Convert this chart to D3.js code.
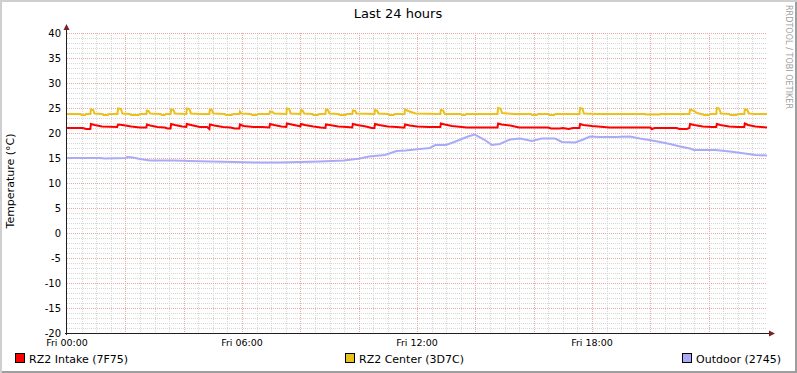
<!DOCTYPE html>
<html>
<head>
<meta charset="utf-8">
<script src="https://cdn.jsdelivr.net/npm/d3@7"></script>
<style>
 body { margin: 0; background: #fff; }
 text { font-family: "DejaVu Sans", sans-serif; fill: #000; }
 .minor { stroke: #d6d6d6; stroke-width: 1; stroke-dasharray: 1,1; }
 .major { stroke: #e8a8a8; stroke-width: 1; stroke-dasharray: 1,1; }
 .axis-line { stroke: #1f1f1f; stroke-width: 1; }
 .arrow { fill: #801f1f; }
 .series { fill: none; stroke-width: 2; stroke-linejoin: miter; }
</style>
</head>
<body>
<div id="chart"></div>
<script>
// hours since Fri 00:00, degrees C
var intakePoints = [
 [0.00,21.0],[0.55,21.0],[0.65,20.8],[0.80,20.8],[0.82,21.8],[0.95,21.6],[1.20,21.3],[1.72,21.2],
 [1.75,21.7],[1.90,21.6],[2.20,21.3],[2.50,21.1],[2.72,21.1],
 [2.74,21.7],[2.85,21.5],[3.10,21.2],[3.35,21.1],[3.45,20.9],[3.55,20.9],
 [3.57,21.8],[3.70,21.6],[3.95,21.3],[4.09,21.2],
 [4.11,21.8],[4.25,21.6],[4.55,21.2],[4.80,21.2],[4.88,20.8],
 [4.90,21.7],[5.05,21.5],[5.35,21.2],[5.60,21.1],[5.75,20.9],[5.91,20.9],
 [5.93,21.7],[6.05,21.4],[6.40,21.2],[6.70,21.2],[6.94,21.1],
 [6.96,21.8],[7.10,21.6],[7.35,21.3],[7.52,21.2],
 [7.54,21.9],[7.70,21.7],[7.95,21.4],[8.00,21.3],
 [8.02,21.8],[8.15,21.6],[8.45,21.3],[8.70,21.1],[8.86,21.0],
 [8.88,21.7],[9.00,21.6],[9.30,21.3],[9.60,21.2],[9.78,21.1],
 [9.80,21.8],[9.95,21.6],[10.25,21.3],[10.45,21.0],[10.54,21.0],
 [10.56,21.8],[10.70,21.6],[11.00,21.3],[11.30,21.2],[11.50,21.1],[11.57,21.1],
 [11.59,21.7],[11.75,21.5],[12.00,21.3],[12.40,21.2],[12.80,21.2],
 [12.82,21.9],[12.95,21.7],[13.20,21.4],[13.70,21.1],[14.76,21.1],
 [14.78,21.9],[14.90,21.7],[15.20,21.5],[15.50,21.1],[16.50,21.1],[16.60,20.9],[16.90,20.9],
 [17.00,21.0],[17.20,20.8],[17.35,21.0],[17.57,21.0],
 [17.59,21.8],[17.70,21.6],[18.00,21.4],[18.40,21.2],[18.60,21.1],[20.00,21.1],[20.05,20.8],
 [20.15,21.0],[20.90,21.0],[21.00,20.8],[21.25,20.8],[21.34,21.0],
 [21.36,21.8],[21.50,21.6],[21.80,21.3],[22.10,21.2],[22.26,21.2],
 [22.28,21.8],[22.40,21.6],[22.70,21.3],[23.00,21.2],[23.22,21.2],
 [23.24,21.9],[23.35,21.6],[23.60,21.3],[24.00,21.1]
];

var centerPoints = [
 [0.00,23.8],[0.45,23.8],[0.50,23.6],[0.62,23.6],[0.66,23.8],[0.80,23.8],[0.82,24.7],[0.90,24.6],[0.94,23.9],
 [1.20,23.8],[1.25,23.6],[1.40,23.6],[1.45,23.8],[1.73,23.8],[1.75,24.9],[1.85,24.8],[1.90,23.9],
 [2.15,23.8],[2.20,23.6],[2.45,23.6],[2.50,23.8],[2.72,23.8],[2.74,24.5],[2.80,24.4],[2.85,23.9],
 [3.20,23.8],[3.25,23.6],[3.35,23.6],[3.40,23.8],[3.55,23.8],[3.57,24.7],[3.65,24.6],[3.70,23.9],
 [4.09,23.8],[4.11,24.9],[4.20,24.8],[4.25,23.9],[4.60,23.8],[4.88,23.8],[4.90,24.7],[4.97,24.6],[5.02,23.9],
 [5.40,23.8],[5.45,23.6],[5.65,23.6],[5.70,23.8],[5.91,23.8],[5.93,24.3],[5.98,23.9],
 [6.30,23.8],[6.35,23.6],[6.50,23.6],[6.55,23.8],[6.94,23.8],[6.96,24.3],[7.05,24.2],[7.10,23.9],
 [7.52,23.8],[7.54,24.9],[7.62,24.8],[7.67,23.9],[8.00,23.8],[8.02,24.6],[8.08,24.5],[8.13,23.9],
 [8.40,23.8],[8.45,23.6],[8.60,23.6],[8.65,23.8],[8.86,23.8],[8.88,24.7],[8.95,24.6],[9.00,23.9],
 [9.30,23.8],[9.35,23.6],[9.55,23.6],[9.60,23.8],[9.78,23.8],[9.80,24.5],[9.88,24.4],[9.93,23.9],
 [10.54,23.8],[10.56,24.6],[10.63,24.5],[10.68,23.9],[11.00,23.8],[11.05,23.6],[11.20,23.6],[11.25,23.8],
 [11.57,23.8],[11.59,24.7],[11.70,24.4],[11.85,24.1],[11.95,23.9],
 [12.80,23.8],[12.82,24.6],[12.90,24.5],[12.95,23.8],[13.50,23.8],[13.55,23.6],[13.65,23.6],[13.70,23.8],
 [14.76,23.8],[14.78,25.0],[14.86,24.9],[14.92,24.0],[15.30,23.8],[15.90,23.8],[15.95,23.6],[16.10,23.6],
 [16.15,23.8],[16.50,23.8],[16.55,23.6],[16.70,23.6],[16.75,23.8],
 [17.57,23.8],[17.59,25.0],[17.67,24.9],[17.72,23.9],[18.20,23.8],[19.80,23.8],[19.85,23.7],[20.30,23.7],
 [20.35,23.8],[21.34,23.8],[21.36,24.7],[21.50,24.4],[21.60,24.0],[21.75,23.8],[21.85,23.6],[22.00,23.6],
 [22.05,23.8],[22.26,23.8],[22.28,25.0],[22.36,24.9],[22.42,23.9],[22.70,23.8],[22.75,23.6],[22.95,23.6],
 [23.00,23.8],[23.22,23.8],[23.24,24.7],[23.32,24.6],[23.38,23.9],[23.60,23.8],[24.00,23.8]
];

var outdoorPoints = [
 [0.00,15.0],[1.13,15.0],[1.30,14.9],[2.00,15.0],[2.06,15.2],[2.26,15.1],[2.50,14.8],[2.85,14.5],
 [3.70,14.5],[4.20,14.4],[4.90,14.3],[5.76,14.2],[6.60,14.1],[7.30,14.1],[8.00,14.2],[8.67,14.3],
 [9.50,14.5],[10.05,14.9],[10.35,15.3],[10.90,15.6],[11.30,16.4],[11.60,16.5],[11.93,16.7],
 [12.44,17.0],[12.63,17.6],[13.00,17.6],[13.32,18.3],[13.75,19.3],[13.98,19.7],[14.33,18.6],
 [14.57,17.6],[14.84,17.8],[15.19,18.7],[15.53,18.9],[15.94,18.4],[16.28,18.9],[16.73,18.9],
 [16.97,18.2],[17.42,18.1],[17.66,18.6],[17.93,19.3],[18.27,19.2],[18.79,19.2],[19.30,19.3],
 [19.64,18.9],[20.16,18.4],[20.67,17.8],[21.02,17.3],[21.36,16.9],[21.50,16.6],[22.22,16.6],
 [22.73,16.3],[23.24,15.9],[23.59,15.6],[24.00,15.5]
];

var seriesNames = ["RZ2 Intake (7F75)", "RZ2 Center (3D7C)", "Outdoor (2745)"];
var seriesColors = ["#ff0000", "#eac11c", "#aaaaf8"];
var yTicks = [-20, -15, -10, -5, 0, 5, 10, 15, 20, 25, 30, 35, 40];
var xTicks = [0, 6, 12, 18];
var xTickLabels = ["Fri 00:00", "Fri 06:00", "Fri 12:00", "Fri 18:00"];

var width = 797, height = 373;
var plot = { left: 67, right: 767, top: 33, bottom: 333 };

var svg = d3.select("#chart").append("svg")
  .attr("width", width)
  .attr("height", height);

// 3d frame like rrdtool
svg.append("rect").attr("x", 0).attr("y", 0).attr("width", width).attr("height", height).attr("fill", "#fff");
svg.append("path").attr("d", "M0,0H" + width + "V2H2V" + height + "H0Z").attr("fill", "#cfcfcf");
svg.append("path").attr("d", "M" + width + "," + height + "H2V" + (height - 2) + "H" + (width - 2) + "V2H" + width + "Z").attr("fill", "#9e9e9e");

var x = d3.scaleLinear().domain([0, 24]).range([plot.left, plot.right]);
var y = d3.scaleLinear().domain([-20, 40]).range([plot.bottom, plot.top]);

// minor grid
var g = svg.append("g");
g.selectAll(".hmin").data(d3.range(-20, 41, 1).filter(function(v) { return v % 5 !== 0; }))
  .enter().append("line").attr("class", "minor")
  .attr("x1", plot.left).attr("x2", plot.right)
  .attr("y1", function(d) { return Math.round(y(d)) + 0.5; })
  .attr("y2", function(d) { return Math.round(y(d)) + 0.5; });
g.selectAll(".vmin").data(d3.range(0.5, 24, 0.5).filter(function(v) { return v % 2 !== 0; }))
  .enter().append("line").attr("class", "minor")
  .attr("y1", plot.top).attr("y2", plot.bottom)
  .attr("x1", function(d) { return Math.round(x(d)) + 0.5; })
  .attr("x2", function(d) { return Math.round(x(d)) + 0.5; });

// major grid
g.selectAll(".hmaj").data(yTicks)
  .enter().append("line").attr("class", "major")
  .attr("x1", plot.left).attr("x2", plot.right)
  .attr("y1", function(d) { return Math.round(y(d)) + 0.5; })
  .attr("y2", function(d) { return Math.round(y(d)) + 0.5; });
g.selectAll(".vmaj").data(d3.range(2, 24, 2))
  .enter().append("line").attr("class", "major")
  .attr("y1", plot.top).attr("y2", plot.bottom)
  .attr("x1", function(d) { return Math.round(x(d)) + 0.5; })
  .attr("x2", function(d) { return Math.round(x(d)) + 0.5; });

// series lines
var line = d3.line()
  .x(function(d) { return x(d[0]); })
  .y(function(d) { return y(d[1]); });

[intakePoints, centerPoints, outdoorPoints].forEach(function(pts, i) {
  svg.append("path").datum(pts)
    .attr("class", "series")
    .attr("stroke", seriesColors[i])
    .attr("d", line);
});

// axes + arrows
svg.append("line").attr("class", "axis-line")
  .attr("x1", plot.left - 2).attr("x2", plot.right + 4)
  .attr("y1", plot.bottom + 0.5).attr("y2", plot.bottom + 0.5);
svg.append("line").attr("class", "axis-line")
  .attr("x1", plot.left - 0.5).attr("x2", plot.left - 0.5)
  .attr("y1", plot.bottom + 2).attr("y2", plot.top - 4);
svg.append("path").attr("class", "arrow")
  .attr("d", "M" + (plot.right + 2) + "," + (plot.bottom - 2.5) + "l6,3l-6,3Z");
svg.append("path").attr("class", "arrow")
  .attr("d", "M" + (plot.left - 3.5) + "," + (plot.top - 3) + "l3,-6l3,6Z");

// y tick labels
svg.selectAll(".ylab").data(yTicks).enter().append("text")
  .attr("x", plot.left - 6)
  .attr("y", function(d) { return y(d) + 3.5; })
  .attr("text-anchor", "end")
  .style("font-size", "10px")
  .text(function(d) { return d; });

// x tick labels
svg.selectAll(".xlab").data(xTicks).enter().append("text")
  .attr("x", function(d) { return x(d); })
  .attr("y", plot.bottom + 13)
  .attr("text-anchor", "middle")
  .style("font-size", "9.5px")
  .text(function(d, i) { return xTickLabels[i]; });

// title
svg.append("text").attr("x", 398).attr("y", 18)
  .attr("text-anchor", "middle").style("font-size", "13px")
  .text("Last 24 hours");

// vertical unit label
svg.append("text")
  .attr("transform", "translate(14," + ((plot.top + plot.bottom) / 2 - 2) + ") rotate(-90)")
  .attr("text-anchor", "middle").style("font-size", "11px")
  .text("Temperature (°C)");

// watermark
svg.append("text")
  .attr("transform", "translate(786,5) rotate(90)")
  .style("font-size", "8px").style("fill", "#a0a0a0")
  .attr("textLength", 104).attr("lengthAdjust", "spacing")
  .text("RRDTOOL / TOBI OETIKER");

// legend
var legendX = [15, 345, 682];
var lg = svg.selectAll(".leg").data(seriesNames).enter().append("g")
  .attr("transform", function(d, i) { return "translate(" + legendX[i] + ",353)"; });
lg.append("rect").attr("x", 0.5).attr("y", 0.5).attr("width", 9).attr("height", 9)
  .attr("fill", function(d, i) { return seriesColors[i]; })
  .attr("stroke", "#000");
lg.append("text").attr("x", 14).attr("y", 9.5)
  .style("font-size", "11px")
  .text(function(d) { return d; });
</script>
</body>
</html>
